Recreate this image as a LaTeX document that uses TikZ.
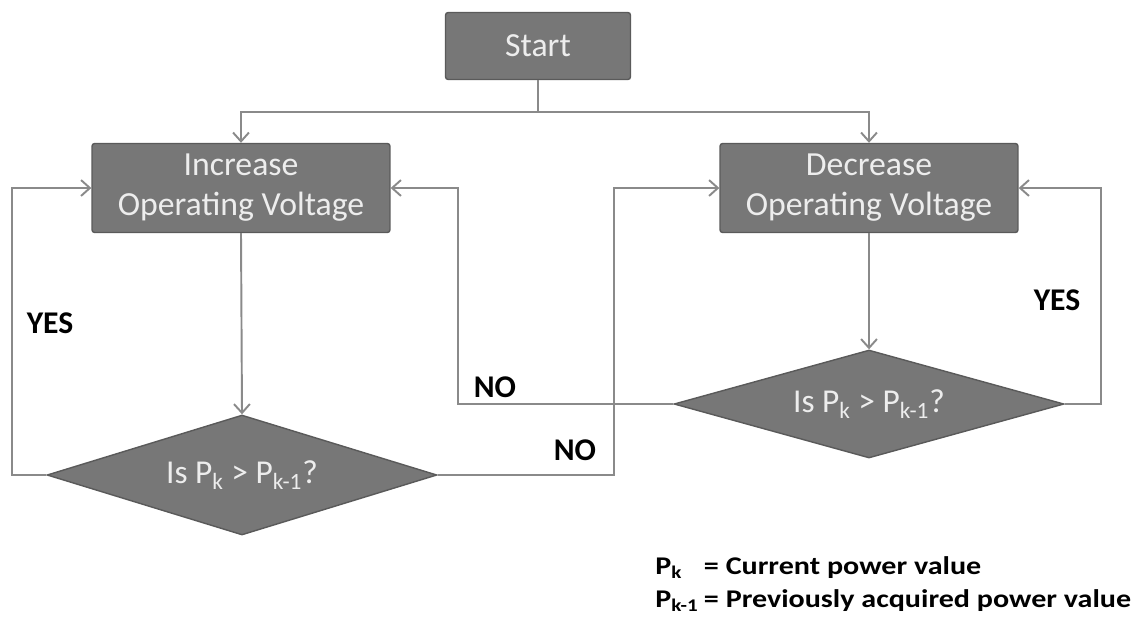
\documentclass[tikz,border=0pt]{standalone}
\usepackage{fontspec}
\setmainfont{Carlito}
\newfontfamily\legendfont[FakeStretch=1.18]{Carlito}
\usepackage{xcolor}
\definecolor{boxfill}{HTML}{777777}
\definecolor{boxedge}{HTML}{5A5A5A}
\definecolor{boxtext}{HTML}{EDEDED}
\definecolor{linegray}{HTML}{8A8A8A}
\usepackage{tikz}
\usetikzlibrary{arrows.meta, shapes.geometric, positioning, calc}

\begin{document}
\begin{tikzpicture}[x=0.02cm, y=-0.02cm, >={Straight Barb[length=5pt, width=9pt]},
  stepbox/.style={draw=boxedge, fill=boxfill, rounded corners=1.5pt, line width=0.8pt,
        minimum width=5.96cm, minimum height=1.78cm, align=center,
        font=\fontsize{19.2}{22.8}\selectfont, text=boxtext},
  test/.style={diamond, aspect=3.25, draw=boxedge, fill=boxfill, line width=0.8pt,
        inner sep=0pt, minimum width=7.8cm, minimum height=2.4cm,
        font=\fontsize{19}{22}\selectfont, text=boxtext},
  wire/.style={->, color=linegray, line width=1.1pt},
  answer/.style={font=\bfseries\fontsize{18}{21}\selectfont, text=black}]
  \useasboundingbox (0,0) rectangle (1142,620);

  \node[stepbox, minimum width=3.7cm, minimum height=1.34cm] (start) at (538,46) {Start};
  \node[stepbox] (increase) at (241,188) {Increase\\Operating Voltage};
  \node[stepbox] (decrease) at (869,188) {Decrease\\Operating Voltage};
  \node[test] (check1) at (242,475) {Is P\textsubscript{k} > P\textsubscript{k-1}?};
  \node[test, minimum height=2.16cm] (check2) at (869,404)
        {Is P\textsubscript{k} > P\textsubscript{k-1}?};

  % split below start
  \coordinate (split) at ($(start.south)+(0,32)$);
  \draw[wire, -] (start.south) -- (split);
  \draw[wire] (split) -| (increase.north);
  \draw[wire] (split) -| (decrease.north);

  \draw[wire] (increase.south) -- (check1.north);
  \draw[wire] (decrease.south) -- (check2.north);

  % feedback loops
  \draw[wire] (check1.west) -- ++(-34,0) |- (increase.west);
  \draw[wire] (check1.east) -- ++(176,0) |- (decrease.west);
  \draw[wire] (check2.west) -- ++(-215,0) |- (increase.east);
  \draw[wire] (check2.east) -- ++(36,0) |- (decrease.east);

  \node[answer] (yes1) at (50,323) {YES};
  \node[answer] (no1) at (575,450) {NO};
  \node[answer] (no2) at (495,387) {NO};
  \node[answer] (yes2) at (1057,300) {YES};

  \node[anchor=south west, inner sep=0pt, font=\legendfont\bfseries\fontsize{14.5}{18.8}\selectfont]
        (legend) at (655,618)
        {\begin{tabular}{@{}l@{\hspace{3pt}}l@{}}
         P\textsubscript{k} & = Current power value\\
         P\textsubscript{k-1} & = Previously acquired power value
         \end{tabular}};
\end{tikzpicture}
\end{document}
